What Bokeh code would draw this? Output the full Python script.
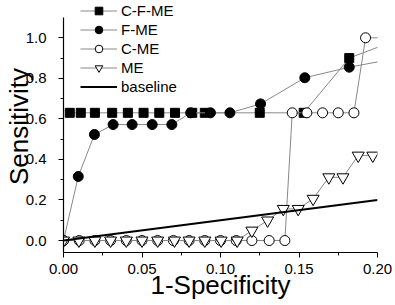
from bokeh.plotting import figure
from bokeh.models import Range1d, FixedTicker, PrintfTickFormatter, Legend, LegendItem
from bokeh.embed import file_html
from bokeh.resources import INLINE

# ---- data ----
cfme_x = [0.004, 0.011, 0.020, 0.031, 0.041, 0.051, 0.061, 0.071, 0.082, 0.090, 0.125, 0.153, 0.182, 0.216]
cfme_y = [0.63, 0.63, 0.63, 0.63, 0.63, 0.63, 0.63, 0.63, 0.63, 0.63, 0.63, 0.63, 0.90, 1.0]

fme_x = [0.0, 0.0094, 0.0197, 0.0316, 0.0437, 0.0565, 0.069, 0.081, 0.0936, 0.106, 0.1255, 0.1537, 0.182, 0.22]
fme_y = [0.0, 0.316, 0.523, 0.572, 0.572, 0.572, 0.572, 0.63, 0.63, 0.63, 0.674, 0.803, 0.855, 0.91]

cme_x = [0.0, 0.01, 0.02, 0.03, 0.04, 0.05, 0.06, 0.07, 0.08, 0.09, 0.10, 0.11, 0.120, 0.131, 0.141,
         0.1457, 0.155, 0.165, 0.175, 0.185, 0.1924, 0.21]
cme_y = [0.0, 0.0, 0.0, 0.0, 0.0, 0.0, 0.0, 0.0, 0.0, 0.0, 0.0, 0.0, 0.0, 0.0, 0.0,
         0.63, 0.63, 0.63, 0.63, 0.63, 1.0, 1.0]

me_x = [0.0, 0.0098, 0.02, 0.03, 0.04, 0.05, 0.06, 0.0707, 0.08, 0.09, 0.1004, 0.1106,
        0.120, 0.130, 0.140, 0.1495, 0.159, 0.169, 0.178, 0.1877, 0.197]
me_y = [0.0, 0.0, 0.0, 0.0, 0.0, 0.0, 0.0, 0.0, 0.0, 0.0, 0.0, 0.0,
        0.049, 0.099, 0.156, 0.156, 0.206, 0.312, 0.312, 0.419, 0.419]

base_x = [0.0, 0.2]
base_y = [0.0, 0.2]

x_ticks = [0.0, 0.05, 0.10, 0.15, 0.20]
x_minor = [0.025, 0.075, 0.125, 0.175]
y_ticks = [0.0, 0.2, 0.4, 0.6, 0.8, 1.0]
y_minor = [0.1, 0.3, 0.5, 0.7, 0.9]
y_axis_bounds = (-0.059, 1.1)

FONT = "Liberation Sans"
GRAY = "#888888"

# frame reaches the top edge so the legend above the axis end is not clipped;
# the y axis itself is bounded to end at 1.1
p = figure(width=395, height=305, output_backend="svg", toolbar_location=None,
           x_range=Range1d(0, 0.2), y_range=Range1d(-0.059, 1.184))
p.min_border_left = 10
p.min_border_right = 18
p.min_border_top = 0
p.min_border_bottom = 53
p.outline_line_color = None
p.xgrid.visible = False
p.ygrid.visible = False
p.background_fill_color = "white"
p.border_fill_color = "white"

# series
l1 = p.line(cfme_x, cfme_y, line_color=GRAY, line_width=1)
s1 = p.scatter(cfme_x, cfme_y, marker="square", size=9, fill_color="black", line_color="black")
l2 = p.line(fme_x, fme_y, line_color=GRAY, line_width=1)
s2 = p.scatter(fme_x, fme_y, marker="circle", size=10, fill_color="black", line_color="black")
l3 = p.line(cme_x, cme_y, line_color=GRAY, line_width=1)
s3 = p.scatter(cme_x, cme_y, marker="circle", size=10, fill_color="white", line_color="black", line_width=1)
l4 = p.line(me_x, me_y, line_color=GRAY, line_width=1)
s4 = p.scatter(me_x, me_y, marker="inverted_triangle", size=12, fill_color="white", line_color="black", line_width=1)
l5 = p.line(base_x, base_y, line_color="black", line_width=2)

# axes
for ax in (p.xaxis[0], p.yaxis[0]):
    ax.axis_line_color = "black"
    ax.axis_line_width = 1.2
    ax.major_tick_line_color = "black"
    ax.minor_tick_line_color = "black"
    ax.major_tick_in = 0
    ax.major_tick_out = 5
    ax.minor_tick_in = 0
    ax.minor_tick_out = 3
    ax.major_label_text_font = FONT
    ax.major_label_text_font_size = "15px"
    ax.major_label_text_color = "black"
    ax.axis_label_text_font = FONT
    ax.axis_label_text_font_size = "26px"
    ax.axis_label_text_font_style = "normal"
    ax.axis_label_text_color = "black"

p.xaxis[0].ticker = FixedTicker(ticks=x_ticks, minor_ticks=x_minor)
p.yaxis[0].ticker = FixedTicker(ticks=y_ticks, minor_ticks=y_minor)
p.yaxis[0].bounds = y_axis_bounds
p.xaxis[0].formatter = PrintfTickFormatter(format="%.2f")
p.yaxis[0].formatter = PrintfTickFormatter(format="%.1f")
p.xaxis[0].axis_label = "1-Specificity"
p.yaxis[0].axis_label = "Sensitivity"
p.xaxis[0].major_label_standoff = 6
p.yaxis[0].major_label_standoff = 12
p.xaxis[0].axis_label_standoff = -7
p.yaxis[0].axis_label_standoff = -11

legend = Legend(items=[
    LegendItem(label="C-F-ME", renderers=[l1, s1]),
    LegendItem(label="F-ME", renderers=[l2, s2]),
    LegendItem(label="C-ME", renderers=[l3, s3]),
    LegendItem(label="ME", renderers=[l4, s4]),
    LegendItem(label="baseline", renderers=[l5]),
], location=(17, 156))
legend.background_fill_alpha = 0
legend.border_line_color = None
legend.padding = 0
legend.margin = 0
legend.spacing = 0
legend.glyph_height = 19
legend.glyph_width = 37
legend.label_height = 19
legend.label_standoff = 4
legend.label_text_font = FONT
legend.label_text_font_size = "15px"
legend.label_text_color = "black"
p.add_layout(legend)

open("out.html", "w").write(file_html(p, INLINE))
